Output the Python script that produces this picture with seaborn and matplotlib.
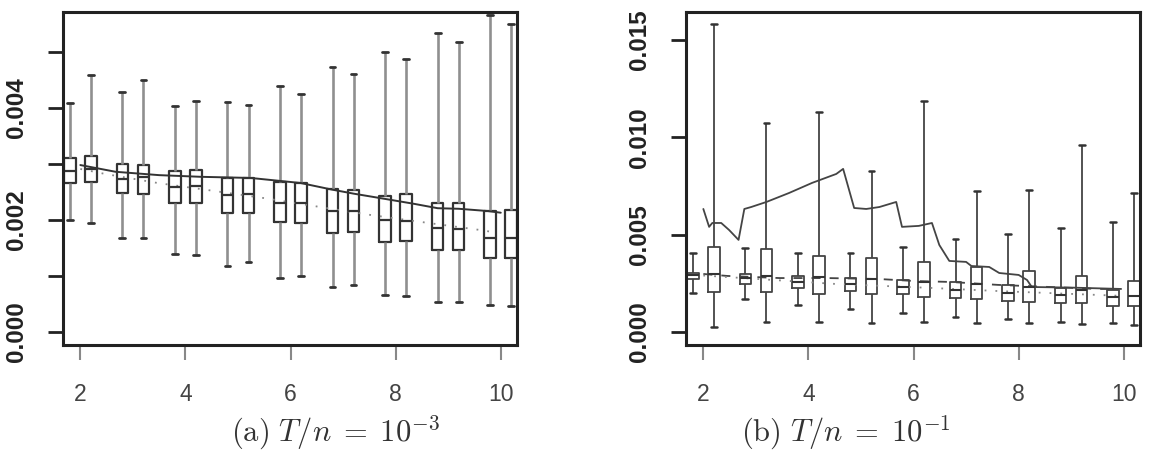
import matplotlib
matplotlib.use("Agg")
import numpy as np
import pandas as pd
import matplotlib.pyplot as plt
import seaborn as sns

sns.set_style("white")
plt.rcParams['font.family'] = ['Liberation Sans', 'DejaVu Sans']
plt.rcParams['mathtext.fontset'] = 'cm'

# box positions, shared by both panels
pos = [1.8, 2.2, 2.8, 3.2, 3.8, 4.2, 4.8, 5.2, 5.8, 6.2,
       6.8, 7.2, 7.8, 8.2, 8.8, 9.2, 9.8, 10.2]

# panel (a): whisker low, q1, median, q3, whisker high (units of 1e-3)
a_lo = [2.00, 1.95, 1.68, 1.68, 1.39, 1.38, 1.18, 1.25, 0.96, 1.00,
        0.80, 0.84, 0.66, 0.64, 0.54, 0.54, 0.48, 0.46]
a_q1 = [2.66, 2.68, 2.48, 2.46, 2.30, 2.30, 2.12, 2.12, 1.96, 1.95,
        1.77, 1.79, 1.61, 1.63, 1.46, 1.46, 1.32, 1.32]
a_med = [2.88, 2.91, 2.73, 2.77, 2.59, 2.61, 2.45, 2.46, 2.30, 2.30,
         2.16, 2.16, 2.00, 1.98, 1.86, 1.84, 1.68, 1.68]
a_q3 = [3.11, 3.14, 3.00, 2.98, 2.88, 2.89, 2.75, 2.75, 2.68, 2.66,
        2.55, 2.54, 2.43, 2.46, 2.30, 2.30, 2.16, 2.18]
a_hi = [4.09, 4.59, 4.29, 4.50, 4.04, 4.12, 4.10, 4.05, 4.39, 4.25,
        4.73, 4.61, 5.00, 4.88, 5.33, 5.18, 5.66, 5.50]

a_solid_x = [2.0, 2.67, 3.5, 4.3, 5.24, 6.19, 6.8, 7.2, 7.71, 8.34, 8.8, 9.2, 9.75, 10.0]
a_solid_y = [2.98, 2.86, 2.80, 2.77, 2.75, 2.66, 2.54, 2.47, 2.39, 2.29, 2.21, 2.20, 2.16, 2.13]
a_dot_x = [2.0, 2.48, 3.47, 4.53, 5.5, 6.44, 7.52, 8.6, 9.62, 9.94]
a_dot_y = [2.91, 2.82, 2.66, 2.52, 2.39, 2.25, 2.09, 1.95, 1.82, 1.77]

# panel (b)
b_lo = [2.00, 0.26, 1.70, 0.51, 1.39, 0.51, 1.18, 0.46, 0.98, 0.51,
        0.77, 0.46, 0.67, 0.46, 0.51, 0.41, 0.46, 0.36]
b_q1 = [2.72, 2.06, 2.47, 2.06, 2.26, 1.95, 2.11, 1.95, 1.95, 1.80,
        1.75, 1.70, 1.59, 1.54, 1.49, 1.49, 1.34, 1.34]
b_med = [2.93, 2.98, 2.77, 2.88, 2.57, 2.83, 2.47, 2.72, 2.31, 2.57,
         2.16, 2.47, 2.00, 2.31, 1.90, 2.16, 1.80, 1.85]
b_q3 = [3.03, 4.37, 2.98, 4.27, 2.88, 3.90, 2.77, 3.80, 2.67, 3.60,
        2.57, 3.34, 2.42, 3.13, 2.26, 2.88, 2.16, 2.62]
b_hi = [4.06, 15.8, 4.32, 10.74, 4.06, 11.3, 4.06, 8.27, 4.37, 11.87,
        4.78, 7.25, 5.04, 7.30, 5.34, 9.61, 5.65, 7.14]

b_solid_x = [2.0, 2.11, 2.17, 2.34, 2.49, 2.67, 2.78, 2.91, 3.2, 3.63, 4.07, 4.53, 4.66,
             4.87, 5.1, 5.35, 5.67, 5.78, 6.1, 6.35, 6.49, 6.68, 7.0, 7.1, 7.44, 7.63,
             8.0, 8.16, 8.25, 9.0, 9.95]
b_solid_y = [6.32, 5.40, 5.60, 5.60, 5.24, 4.73, 6.32, 6.42, 6.68, 7.14, 7.66, 8.12, 8.38,
             6.37, 6.32, 6.42, 6.68, 5.40, 5.45, 5.60, 4.47, 3.65, 3.60, 3.39, 3.34, 3.03,
             2.93, 2.67, 2.31, 2.28, 2.21]
b_dash_x = [2.0, 2.45, 3.45, 4.35, 5.35, 6.0, 6.7, 7.6, 8.6, 9.5, 9.8]
b_dash_y = [2.98, 2.88, 2.77, 2.77, 2.72, 2.62, 2.57, 2.42, 2.31, 2.21, 2.21]
b_dot_x = [2.0, 4.5, 6.35, 7.63, 9.53, 10.0]
b_dot_y = [2.90, 2.47, 2.26, 2.10, 1.90, 1.85]


def box_frame(lo, q1, med, q3, hi):
    # five points per box -> quartiles land exactly on q1/med/q3
    rows = []
    for p, a, b, c, d, e in zip(pos, lo, q1, med, q3, hi):
        for v in (a, b, c, d, e):
            rows.append({'pos': p, 'val': v * 1e-3})
    return pd.DataFrame(rows)


fig = plt.figure(figsize=(11.58, 4.53), dpi=100)
ax1 = fig.add_axes([0.0544, 0.2384, 0.3921, 0.7351])
ax2 = fig.add_axes([0.5924, 0.2384, 0.3921, 0.7351])

# panel (a)
sns.boxplot(data=box_frame(a_lo, a_q1, a_med, a_q3, a_hi), x='pos', y='val',
            native_scale=True, whis=(0, 100), fill=False, width=0.55,
            showfliers=False, ax=ax1,
            boxprops=dict(color='#333333', linewidth=1.6),
            medianprops=dict(color='#333333', linewidth=1.6),
            whiskerprops=dict(color='#8f8f8f', linewidth=1.9),
            capprops=dict(color='#333333', linewidth=2.0))
sns.lineplot(x=np.array(a_solid_x), y=np.array(a_solid_y) * 1e-3, ax=ax1,
             color='#333333', linewidth=1.4, estimator=None)
sns.lineplot(x=np.array(a_dot_x), y=np.array(a_dot_y) * 1e-3, ax=ax1,
             color='#888888', linewidth=1.3, linestyle=(0, (1, 5)), estimator=None)

# panel (b)
sns.boxplot(data=box_frame(b_lo, b_q1, b_med, b_q3, b_hi), x='pos', y='val',
            native_scale=True, whis=(0, 100), fill=False, width=0.55,
            showfliers=False, ax=ax2,
            boxprops=dict(color='#444444', linewidth=1.3),
            medianprops=dict(color='#333333', linewidth=1.5),
            whiskerprops=dict(color='#444444', linewidth=1.3),
            capprops=dict(color='#333333', linewidth=1.8))
sns.lineplot(x=np.array(b_solid_x), y=np.array(b_solid_y) * 1e-3, ax=ax2,
             color='#444444', linewidth=1.3, estimator=None)
sns.lineplot(x=np.array(b_dash_x), y=np.array(b_dash_y) * 1e-3, ax=ax2,
             color='#444444', linewidth=1.3, linestyle=(0, (5, 5)), estimator=None)
sns.lineplot(x=np.array(b_dot_x), y=np.array(b_dot_y) * 1e-3, ax=ax2,
             color='#888888', linewidth=1.3, linestyle=(0, (1, 5)), estimator=None)

xticks = [2, 4, 6, 8, 10]
for ax in (ax1, ax2):
    ax.set_xlim(1.67, 10.31)
    ax.set_xticks(xticks)
    ax.set_xticklabels([str(t) for t in xticks], fontsize=16.5, color='#444444')
    ax.set_xlabel('')
    ax.set_ylabel('')
    for s in ax.spines.values():
        s.set_visible(True)
        s.set_linewidth(2.2)
        s.set_color('#222222')
    ax.tick_params(axis='x', length=10.5, width=1.5, color='#888888', pad=17, bottom=True)
    ax.tick_params(axis='y', length=10.5, width=2.0, color='#222222', pad=15, left=True)

ax1.set_ylim(-0.00023, 0.00571)
a_yt = [0.000, 0.001, 0.002, 0.003, 0.004, 0.005]
a_yl = ['0.000', '', '0.002', '', '0.004', '']
ax1.set_yticks(a_yt)
ax1.set_yticklabels(a_yl, rotation=90, va='center', fontsize=17.5, fontweight='bold', color='#222222')

ax2.set_ylim(-0.00067, 0.01644)
b_yt = [0.000, 0.005, 0.010, 0.015]
b_yl = ['0.000', '0.005', '0.010', '0.015']
ax2.set_yticks(b_yt)
ax2.set_yticklabels(b_yl, rotation=90, va='center', fontsize=17.5, fontweight='bold', color='#222222')

fig.text(336 / 1158, 0.045, r'$\mathrm{(a)}\ T/n\;=\;10^{-3}$', ha='center', va='center',
         fontsize=22, color='#333333')
fig.text(846 / 1158, 0.045, r'$\mathrm{(b)}\ T/n\;=\;10^{-1}$', ha='center', va='center',
         fontsize=22, color='#333333')

fig.savefig('out.png', dpi=100)
